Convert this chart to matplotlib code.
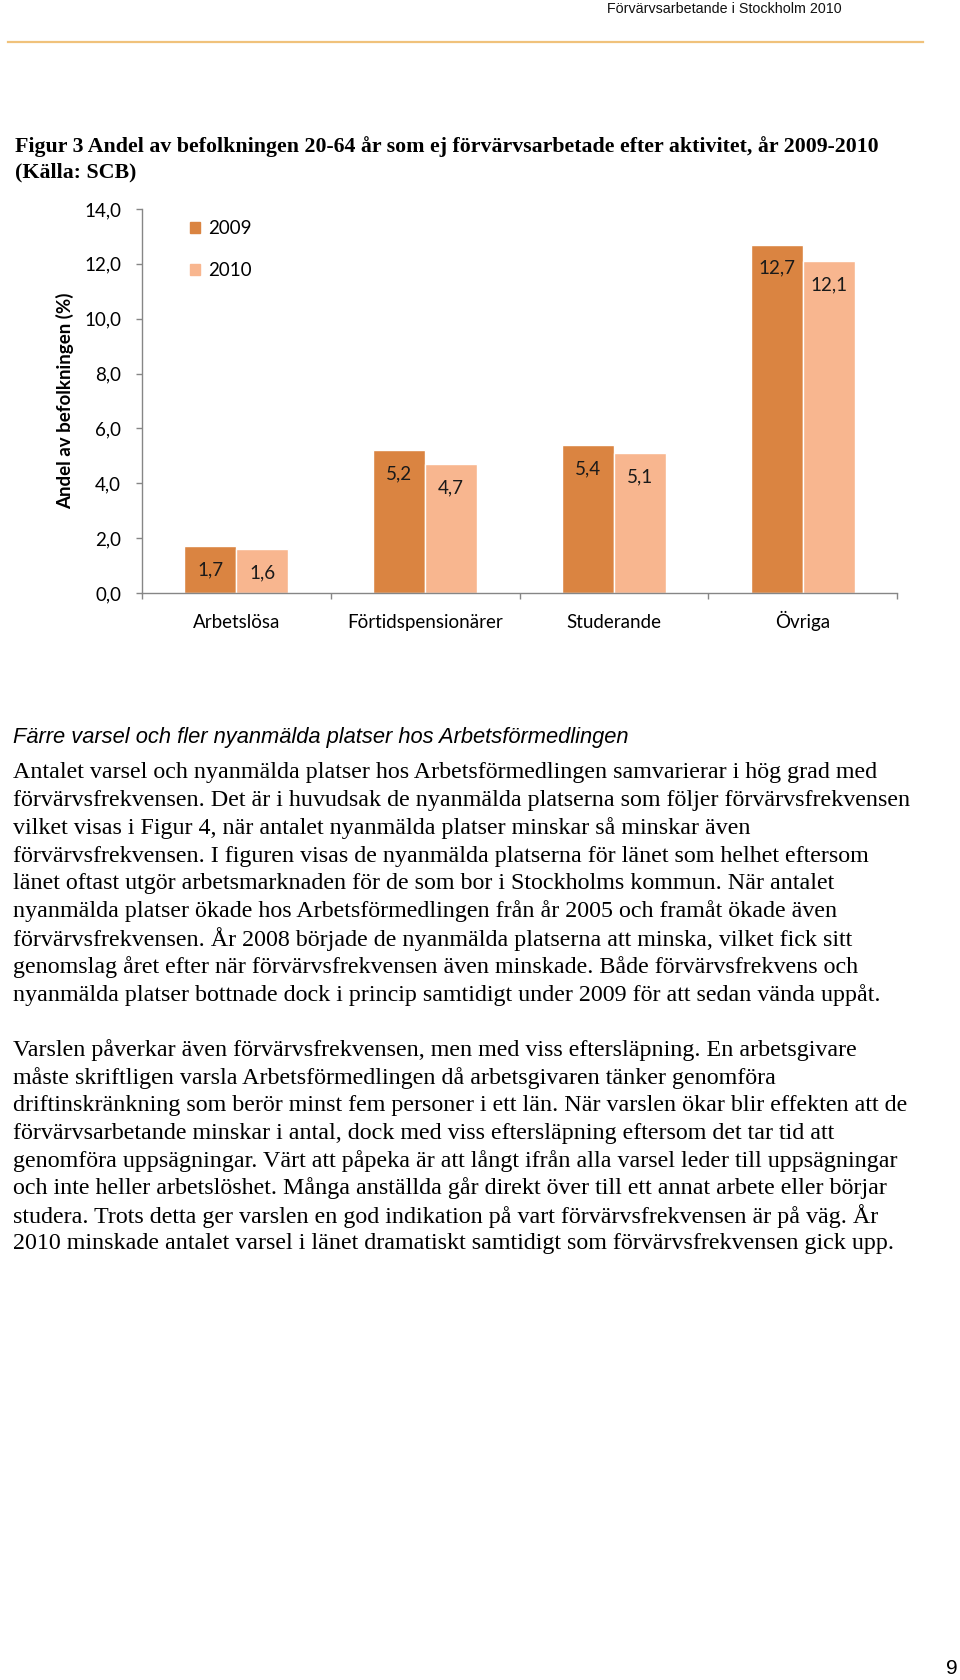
import matplotlib
matplotlib.use("Agg")
import matplotlib.pyplot as plt
from matplotlib.lines import Line2D
from matplotlib.patches import Rectangle
import numpy as np

# chart data (SCB)
categories = ["Arbetslösa", "Förtidspensionärer", "Studerande", "Övriga"]
years = ["2009", "2010"]
share_2009 = [1.7, 5.2, 5.4, 12.7]
share_2010 = [1.6, 4.7, 5.1, 12.1]
yticks = [0, 2, 4, 6, 8, 10, 12, 14]

# page text
header = "Förvärvsarbetande i Stockholm 2010"
title_lines = ["Figur 3 Andel av befolkningen 20-64 år som ej förvärvsarbetade efter aktivitet, år 2009-2010",
               "(Källa: SCB)"]
heading = "Färre varsel och fler nyanmälda platser hos Arbetsförmedlingen"
para1 = [
    "Antalet varsel och nyanmälda platser hos Arbetsförmedlingen samvarierar i hög grad med",
    "förvärvsfrekvensen. Det är i huvudsak de nyanmälda platserna som följer förvärvsfrekvensen",
    "vilket visas i Figur 4, när antalet nyanmälda platser minskar så minskar även",
    "förvärvsfrekvensen. I figuren visas de nyanmälda platserna för länet som helhet eftersom",
    "länet oftast utgör arbetsmarknaden för de som bor i Stockholms kommun. När antalet",
    "nyanmälda platser ökade hos Arbetsförmedlingen från år 2005 och framåt ökade även",
    "förvärvsfrekvensen. År 2008 började de nyanmälda platserna att minska, vilket fick sitt",
    "genomslag året efter när förvärvsfrekvensen även minskade. Både förvärvsfrekvens och",
    "nyanmälda platser bottnade dock i princip samtidigt under 2009 för att sedan vända uppåt.",
]
para2 = [
    "Varslen påverkar även förvärvsfrekvensen, men med viss eftersläpning. En arbetsgivare",
    "måste skriftligen varsla Arbetsförmedlingen då arbetsgivaren tänker genomföra",
    "driftinskränkning som berör minst fem personer i ett län. När varslen ökar blir effekten att de",
    "förvärvsarbetande minskar i antal, dock med viss eftersläpning eftersom det tar tid att",
    "genomföra uppsägningar. Värt att påpeka är att långt ifrån alla varsel leder till uppsägningar",
    "och inte heller arbetslöshet. Många anställda går direkt över till ett annat arbete eller börjar",
    "studera. Trots detta ger varslen en god indikation på vart förvärvsfrekvensen är på väg. År",
    "2010 minskade antalet varsel i länet dramatiskt samtidigt som förvärvsfrekvensen gick upp.",
]
page_no = "9"

W, H = 960, 1680
fig = plt.figure(figsize=(W / 100, H / 100), dpi=100)
fig.patch.set_facecolor("white")
renderer = fig.canvas.get_renderer()


def fx(x):
    return x / W


def fy(y):
    return 1 - y / H


def fit_size(text, target_w, base=20, **kw):
    t = fig.text(0, 0, text, fontsize=base, **kw)
    w = t.get_window_extent(renderer).width
    t.remove()
    return base * target_w / w


serif = ["Liberation Serif", "DejaVu Serif"]
narrow = ["Liberation Sans Narrow", "Liberation Sans", "DejaVu Sans"]
sans = ["Liberation Sans", "DejaVu Sans"]
chart_font = ["Lato", "DejaVu Sans"]

# header
hs = fit_size(header, 232, family=narrow)
fig.text(fx(842), fy(9), header, family=narrow, fontsize=hs, ha="right", va="center", color="#111111")
fig.add_artist(Line2D([fx(8), fx(923)], [fy(42), fy(42)], color="#F0C27B", lw=1.6))

# figure title
ts = fit_size(title_lines[0], 862, family=serif, weight="bold")
for i, line in enumerate(title_lines):
    fig.text(fx(15), fy(147 + 25 * i), line, family=serif, weight="bold", fontsize=ts, va="center")

# chart
c09 = "#DA8441"
c10 = "#F8B68F"
grey = "#868686"
ax = fig.add_axes([fx(142), fy(593), fx(897) - fx(142), (593 - 209) / H])
x = np.arange(len(categories))
bw = 0.2756
b1 = ax.bar(x - bw / 2, share_2009, bw, color=c09, edgecolor="white", linewidth=1, label=years[0])
b2 = ax.bar(x + bw / 2, share_2010, bw, color=c10, edgecolor="white", linewidth=1, label=years[1])
for bars, vals in ((b1, share_2009), (b2, share_2010)):
    for r, v in zip(bars, vals):
        ax.annotate(f"{v:.1f}".replace(".", ","), (r.get_x() + r.get_width() / 2, v),
                    xytext=(0, -23.5), textcoords="offset pixels", ha="center", va="center",
                    family=chart_font, fontsize=13.5, color="#1a1a1a")

ax.set_xlim(-0.5, len(categories) - 0.5)
ax.set_ylim(0, 14)
ax.set_yticks(yticks)
ax.set_yticklabels([f"{v:.1f}".replace(".", ",") for v in yticks], family=chart_font, fontsize=13.5)
ax.set_xticks(x)
ax.set_xticklabels(categories, family=chart_font, fontsize=13.5)
for lab in ax.get_xticklabels():
    lab.set_va("baseline")
ax.set_xticks(np.arange(len(categories) + 1) - 0.5, minor=True)
ax.tick_params(axis="x", which="major", length=0, pad=25.5)
ax.tick_params(axis="x", which="minor", length=4.5, color=grey, width=1)
ax.tick_params(axis="y", length=4.5, color=grey, width=1, pad=10.5)
for s in ("top", "right"):
    ax.spines[s].set_visible(False)
for s in ("left", "bottom"):
    ax.spines[s].set_color(grey)
    ax.spines[s].set_linewidth(1)

fig.text(fx(65), fy(401), "Andel av befolkningen (%)", rotation=90, family=chart_font,
         weight="bold", fontsize=13.5, ha="center", va="center")

handles = [Rectangle((0, 0), 1, 1, color=c09), Rectangle((0, 0), 1, 1, color=c10)]
ax.legend(handles, years, loc="upper left", bbox_to_anchor=(fx(190), fy(220)),
          bbox_transform=fig.transFigure, frameon=False, borderpad=0, borderaxespad=0,
          handlelength=0.55, handleheight=0.55, handletextpad=0.4, labelspacing=1.33,
          prop={"family": chart_font, "size": 13.5})

# body text
hd = fit_size(heading, 614, family=sans, style="italic")
fig.text(fx(13), fy(737), heading, family=sans, style="italic", fontsize=hd, va="center")

bs = fit_size(para1[1], 896, family=serif)
for i, line in enumerate(para1):
    fig.text(fx(13), fy(773 + 27.7 * i), line, family=serif, fontsize=bs, va="center")
for i, line in enumerate(para2):
    fig.text(fx(13), fy(1050 + 27.7 * i), line, family=serif, fontsize=bs, va="center")

fig.text(fx(958), fy(1669), page_no, family=sans, fontsize=15, ha="right", va="center")

fig.savefig("out.png", dpi=100, facecolor="white")
